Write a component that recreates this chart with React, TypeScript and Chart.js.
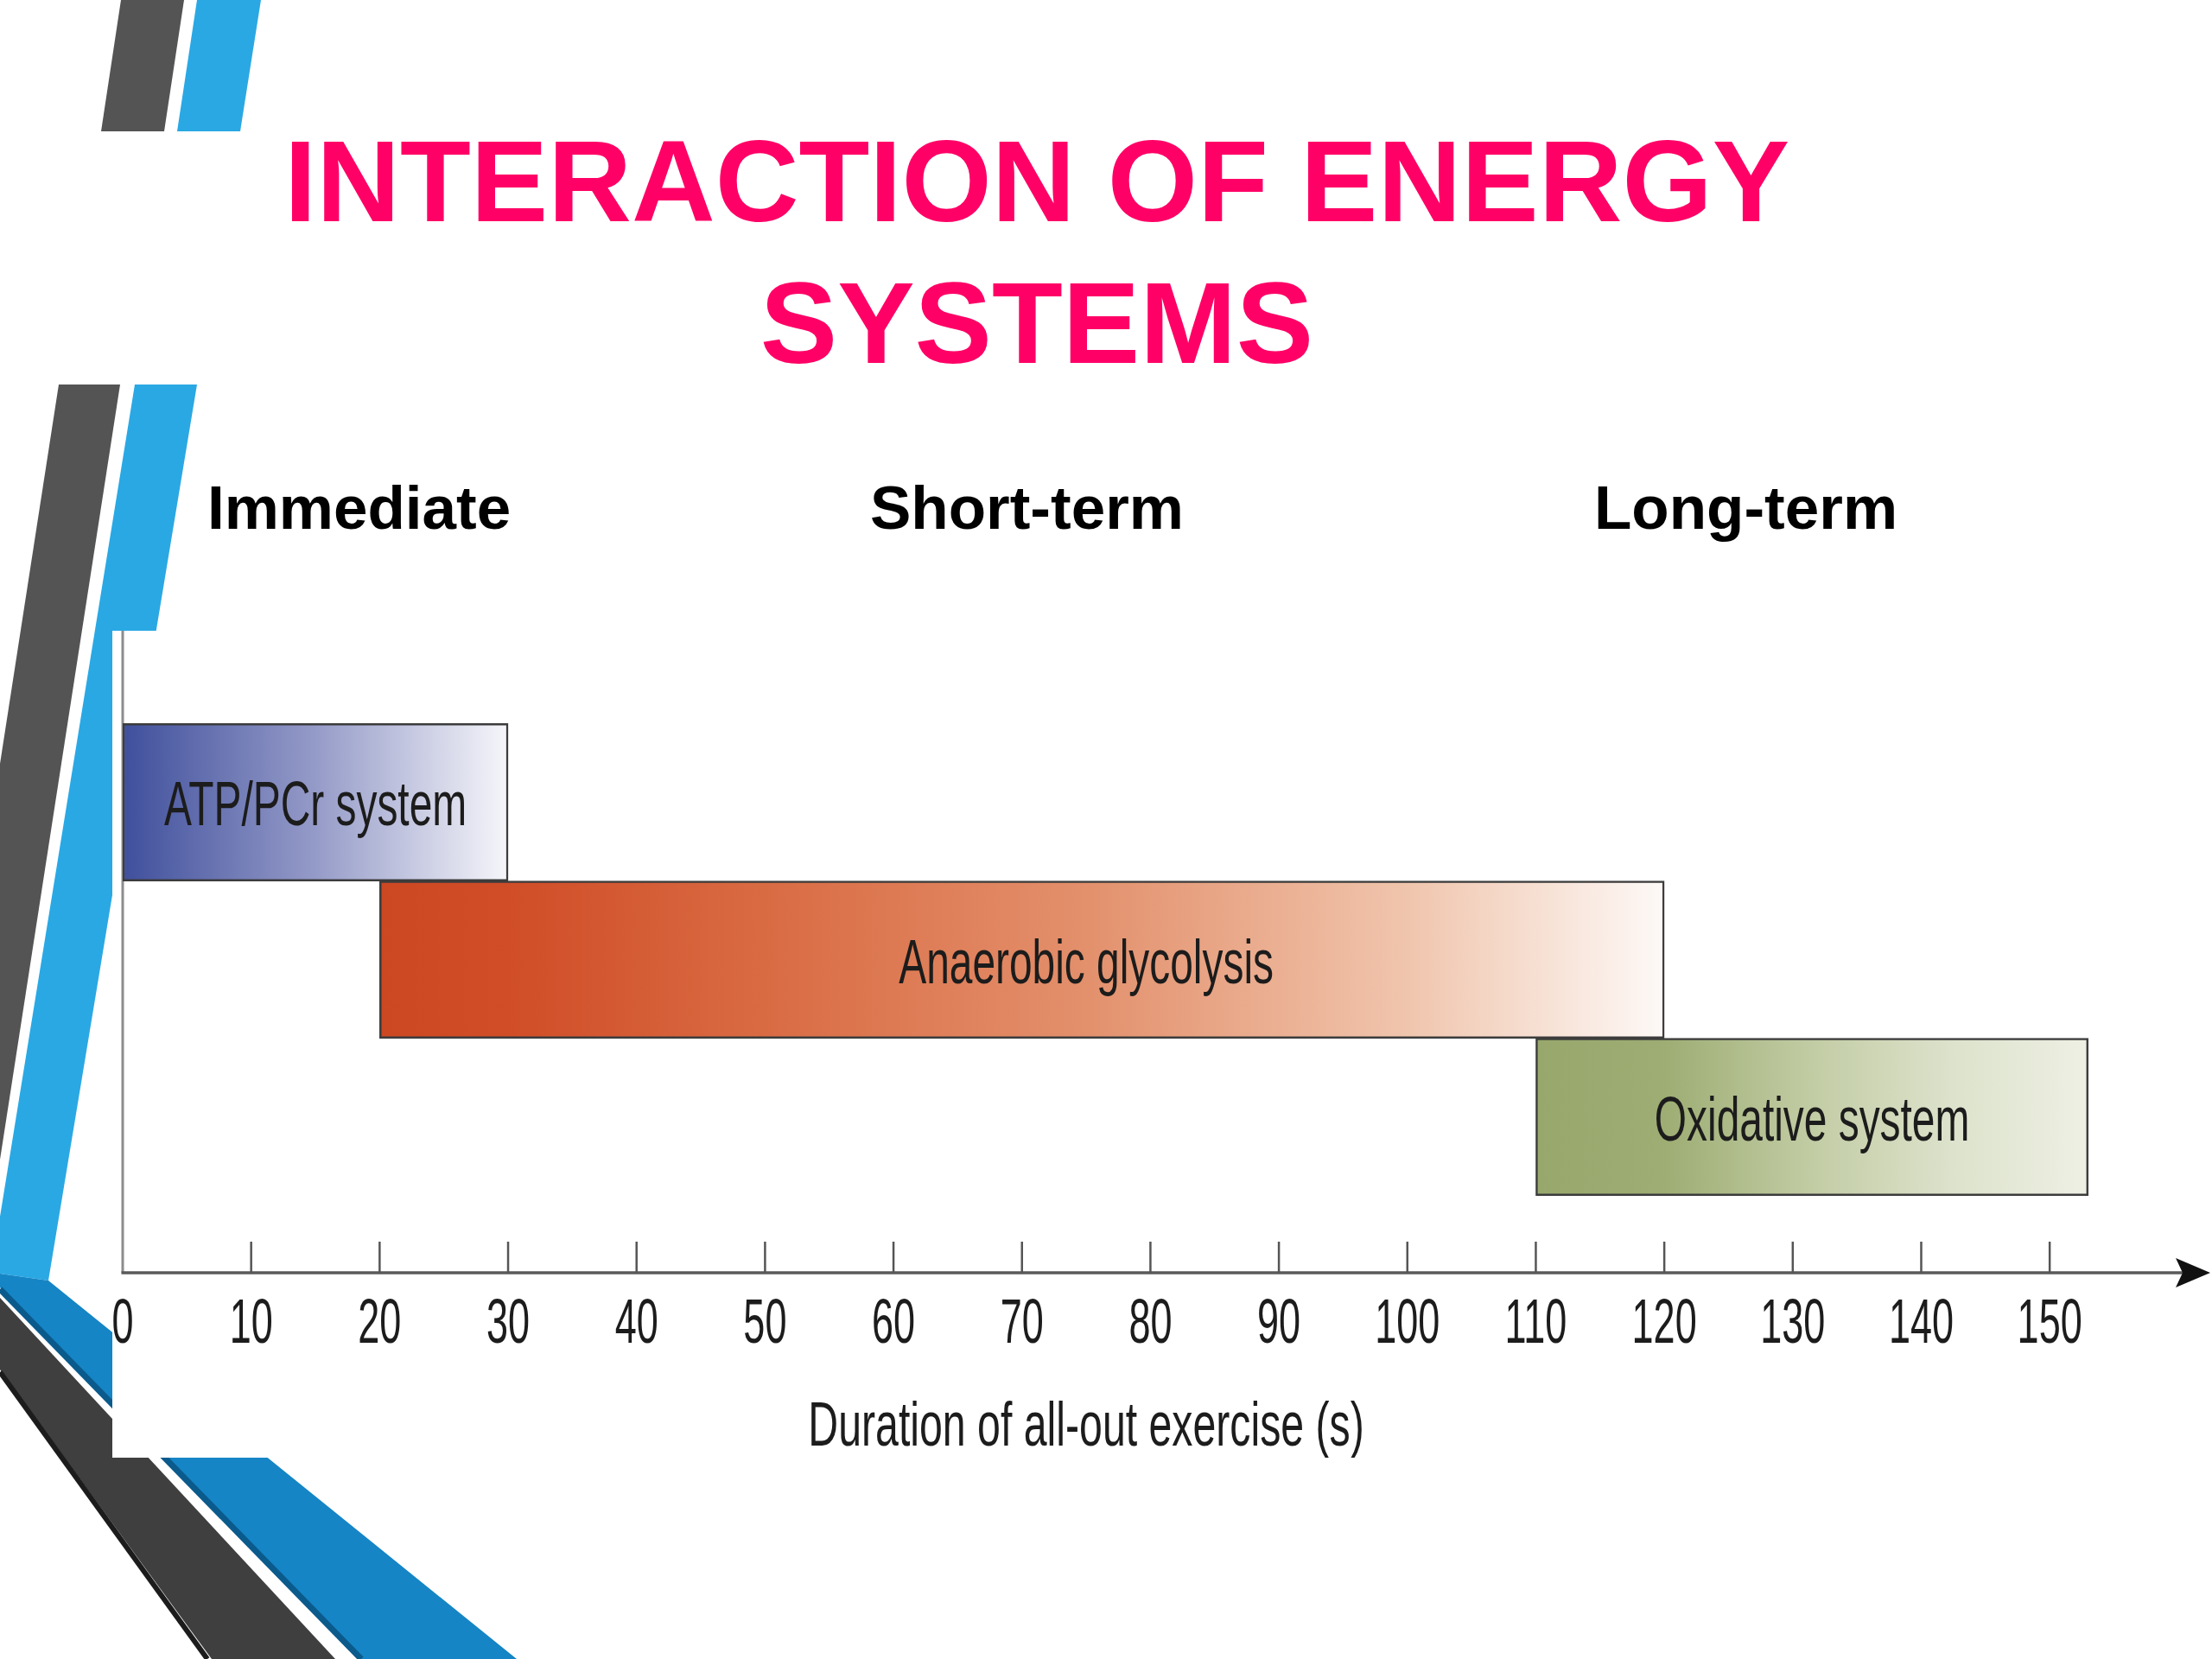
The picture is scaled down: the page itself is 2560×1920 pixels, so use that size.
import React, { useEffect, useRef } from 'react';
import { Chart, registerables } from 'chart.js';

Chart.register(...registerables);

// ---- data ----
const systems = ['ATP/PCr system', 'Anaerobic glycolysis', 'Oxidative system'];
const startSeconds = [0, 20, 110];
const endSeconds = [30, 120, 153];
const labelAtSeconds = [15, 75, 131.5];
const xTicks = [0, 10, 20, 30, 40, 50, 60, 70, 80, 90, 100, 110, 120, 130, 140, 150];
const phases = ['Immediate', 'Short-term', 'Long-term'];
const titleLines = ['INTERACTION OF ENERGY', 'SYSTEMS'];
const axisTitle = 'Duration of all-out exercise (s)';

const gradientStops: [number, string][][] = [
  [[0, '#3f4f9c'], [0.5, '#959bc8'], [1, '#f6f6fa']],
  [[0, '#cc4822'], [0.1, '#d04d27'], [0.3, '#d96b43'], [0.55, '#e3906c'], [0.8, '#f0c5ad'], [1, '#fdf9f7']],
  [[0, '#98a86d'], [0.23, '#9dad73'], [0.5, '#c2cca4'], [0.75, '#dce2cb'], [1, '#eef0e4']],
];

const FONT = "'Liberation Sans', Arial, Helvetica, sans-serif";

const axisPlugin = {
  id: 'energyAxes',
  beforeDatasetsDraw(chart: any) {
    const { ctx, chartArea: a, scales } = chart;
    const x = scales.x;
    const x0 = x.getPixelForValue(xTicks[0]);
    ctx.save();
    // y axis
    ctx.strokeStyle = '#8c8c8c';
    ctx.lineWidth = 3;
    ctx.beginPath();
    ctx.moveTo(x0, a.top);
    ctx.lineTo(x0, a.bottom);
    ctx.stroke();
    // x axis
    ctx.strokeStyle = '#5a5a5a';
    ctx.lineWidth = 3.5;
    ctx.beginPath();
    ctx.moveTo(x0 - 1.5, a.bottom);
    ctx.lineTo(a.right - 30, a.bottom);
    ctx.stroke();
    // tick marks (pointing up)
    ctx.strokeStyle = '#555';
    ctx.lineWidth = 2.5;
    x.ticks.forEach((t: any) => {
      if (t.value === xTicks[0]) return;
      const px = x.getPixelForValue(t.value);
      ctx.beginPath();
      ctx.moveTo(px, a.bottom);
      ctx.lineTo(px, a.bottom - 36);
      ctx.stroke();
    });
    // arrow head
    const tip = a.right;
    ctx.fillStyle = '#111';
    ctx.beginPath();
    ctx.moveTo(tip, a.bottom);
    ctx.lineTo(tip - 40, a.bottom - 17);
    ctx.lineTo(tip - 32, a.bottom);
    ctx.lineTo(tip - 40, a.bottom + 17);
    ctx.closePath();
    ctx.fill();
    ctx.restore();
  },
  afterDatasetsDraw(chart: any) {
    const { ctx, chartArea: a, scales } = chart;
    const x = scales.x;
    const y = scales.y;
    const narrow = (text: string, cx: number, base: number, sx: number) => {
      ctx.save();
      ctx.translate(cx, base);
      ctx.scale(sx, 1);
      ctx.font = `72px ${FONT}`;
      ctx.fillStyle = '#1c1c1c';
      ctx.textAlign = 'center';
      ctx.textBaseline = 'alphabetic';
      ctx.fillText(text, 0, 0);
      ctx.restore();
    };
    // tick labels
    x.ticks.forEach((t: any) => {
      narrow(String(t.value), x.getPixelForValue(t.value), a.bottom + 81, 0.625);
    });
    // axis title
    const mid = (xTicks[0] + xTicks[xTicks.length - 1]) / 2;
    narrow(axisTitle, x.getPixelForValue(mid), a.bottom + 200, 0.67);
    // bar labels
    systems.forEach((s, i) => {
      narrow(s, x.getPixelForValue(labelAtSeconds[i]), y.getPixelForValue(i) + 27, 0.665);
    });
  },
};

function App() {
  const canvasRef = useRef<HTMLCanvasElement | null>(null);

  useEffect(() => {
    const canvas = canvasRef.current;
    if (!canvas) return;
    const chart = new Chart(canvas, {
      type: 'bar',
      data: {
        labels: systems,
        datasets: [
          {
            label: 'Energy systems',
            data: systems.map((_, i) => ({ x: [startSeconds[i], endSeconds[i]], y: i })) as any,
            backgroundColor: (c: any) => {
              const ch = c.chart;
              if (!ch.chartArea || c.type !== 'data') return 'transparent';
              const i = c.dataIndex;
              const xs = ch.scales.x;
              const x0 = xs.getPixelForValue(startSeconds[i]);
              const x1 = xs.getPixelForValue(endSeconds[i]);
              const g = ch.ctx.createLinearGradient(x0, 0, x1, 0);
              gradientStops[i].forEach(([o, col]) => g.addColorStop(o, col));
              return g;
            },
            borderColor: '#3c3c3c',
            borderWidth: 2.5,
            borderSkipped: false,
            categoryPercentage: 1,
            barPercentage: 1,
          } as any,
        ],
      },
      options: {
        indexAxis: 'y',
        animation: false,
        responsive: false,
        devicePixelRatio: 1,
        layout: { padding: { left: 12, right: 2, top: 0, bottom: 214 } },
        plugins: {
          legend: { display: false },
          tooltip: { enabled: false },
          title: { display: false },
        },
        scales: {
          x: {
            type: 'linear',
            min: 0,
            max: 162.5,
            offset: false,
            display: false,
            afterBuildTicks: (s: any) => {
              s.ticks = xTicks.map((v) => ({ value: v }));
            },
          },
          y: {
            type: 'linear',
            min: -1.09,
            max: 2.99,
            reverse: true,
            offset: false,
            grace: 0,
            display: false,
            ticks: { stepSize: 1, includeBounds: false },
          },
        },
      } as any,
      plugins: [axisPlugin],
    });
    return () => chart.destroy();
  }, []);

  return (
    <div style={{ position: 'absolute', left: 0, top: 0, width: 2560, height: 1920, background: '#ffffff', overflow: 'hidden' }}>
      <svg width={2560} height={1920} style={{ position: 'absolute', left: 0, top: 0 }}>
        {/* top stripes */}
        <polygon points="140,0 213,0 190,152 117,152" fill="#545454" />
        <polygon points="228,0 302,0 278,152 205,152" fill="#2AA8E4" />
        {/* long left stripes */}
        <polygon points="68,445 139,445 0,1342 0,884" fill="#545454" />
        <polygon points="156,445 228,445 56,1482 0,1474 0,1408" fill="#2AA8E4" />
        {/* lower bands */}
        <polygon points="0,1474 56,1482 598,1920 415,1920 0,1490" fill="#1585C5" />
        <line x1={0} y1={1492} x2={418} y2={1920} stroke="#0b5a8c" strokeWidth={7} />
        <polygon points="0,1502 388,1920 245,1920 0,1585" fill="#3f3f3f" />
        <line x1={0} y1={1588} x2={240} y2={1920} stroke="#1c1c1c" strokeWidth={6} />
        {/* title */}
        <text x={1200} y={256} textAnchor="middle" fontFamily={FONT} fontWeight="bold" fontSize={134} fill="#FF0066">
          {titleLines[0]}
        </text>
        <text x={1200} y={420} textAnchor="middle" fontFamily={FONT} fontWeight="bold" fontSize={134} fill="#FF0066">
          {titleLines[1]}
        </text>
        {/* phase labels */}
        <text x={240} y={612} fontFamily={FONT} fontWeight="bold" fontSize={71} fill="#000">{phases[0]}</text>
        <text x={1007} y={612} fontFamily={FONT} fontWeight="bold" fontSize={71} fill="#000">{phases[1]}</text>
        <text x={1845} y={612} fontFamily={FONT} fontWeight="bold" fontSize={71} fill="#000">{phases[2]}</text>
      </svg>
      <div style={{ position: 'absolute', left: 130, top: 730, width: 2430, height: 957, background: '#ffffff' }}>
        <canvas ref={canvasRef} width={2430} height={957} style={{ display: 'block', width: 2430, height: 957 }} />
      </div>
    </div>
  );
}

export default App;
